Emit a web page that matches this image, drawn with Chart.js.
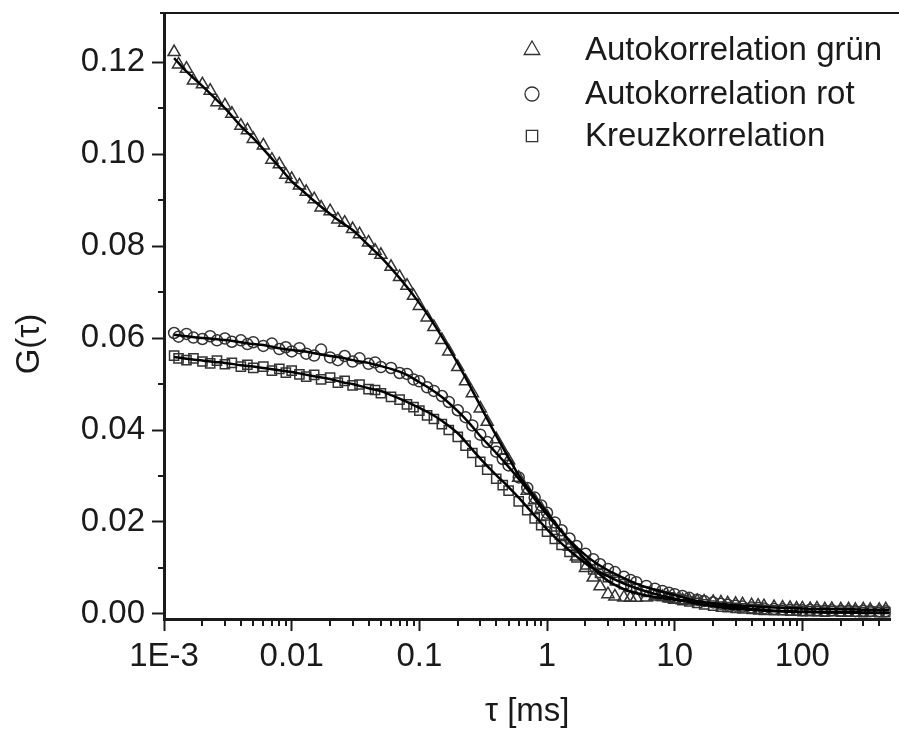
<!DOCTYPE html>
<html lang="de">
<head>
<meta charset="utf-8">
<title>G(τ)</title>
<script src="https://cdn.jsdelivr.net/npm/chart.js@4.4.1/dist/chart.umd.min.js"></script>
<style>
    html, body { margin: 0; padding: 0; background: #fff; }
    #chart-container { width: 899px; height: 743px; }
</style>
</head>
<body>
<div id="chart-container"></div>
<script>
// Lag times in ms of the correlator channels (measured points)
const tauData = [
    0.0012, 0.0013, 0.0015, 0.0017, 0.002, 0.0023, 0.0026, 0.003, 0.0034, 0.004, 0.0045, 0.005, 0.006, 0.007, 0.008, 0.009,
    0.01, 0.0115, 0.013, 0.015, 0.017, 0.02, 0.023, 0.026, 0.03, 0.034, 0.04, 0.045, 0.05, 0.06, 0.07, 0.08, 0.09,
    0.1, 0.115, 0.13, 0.15, 0.17, 0.2, 0.23, 0.26, 0.3, 0.34, 0.4, 0.45, 0.5, 0.6, 0.7, 0.8, 0.9,
    1, 1.15, 1.3, 1.5, 1.7, 2, 2.3, 2.6, 3, 3.4, 4, 4.5, 5, 6, 7, 8, 9,
    10, 11.5, 13, 15, 17, 20, 23, 26, 30, 34, 40, 45, 50, 60, 70, 80, 90,
    100, 115, 130, 150, 170, 200, 230, 260, 300, 340, 400, 450
];

// Lag times in ms at which the fit curves are given
const tauFit = [
    0.0012, 0.0015, 0.002, 0.0025, 0.003, 0.004, 0.005, 0.006, 0.008,
    0.01, 0.012, 0.015, 0.02, 0.025, 0.03, 0.04, 0.05, 0.06, 0.08,
    0.1, 0.12, 0.15, 0.2, 0.25, 0.3, 0.4, 0.5, 0.6, 0.8,
    1, 1.2, 1.5, 2, 2.5, 3, 4, 5, 6, 8,
    10, 12, 15, 20, 25, 30, 40, 50, 60, 80,
    100, 120, 150, 200, 250, 300, 400, 480
];

// Autokorrelation grün
const gruenData = [
    0.1222, 0.1195, 0.1186, 0.1160, 0.1152, 0.1138, 0.1113, 0.1106, 0.1088, 0.1062, 0.1052, 0.1033, 0.1019, 0.0988, 0.0978, 0.0955,
    0.0946, 0.0932, 0.0918, 0.0902, 0.0884, 0.0876, 0.0858, 0.0851, 0.0837, 0.0826, 0.0808, 0.0790, 0.0781, 0.0755, 0.0733, 0.0714, 0.0692,
    0.0670, 0.0645, 0.0624, 0.0596, 0.0571, 0.0537, 0.0506, 0.0480, 0.0447, 0.0418, 0.0380, 0.0355, 0.0334, 0.0296, 0.0268, 0.0247, 0.0229,
    0.0212, 0.0188, 0.0170, 0.0146, 0.0125, 0.0100, 0.0079, 0.0060, 0.0043, 0.0038, 0.0036, 0.0035, 0.0035, 0.0036, 0.0038, 0.0037, 0.0034,
    0.0031, 0.0030, 0.0029, 0.0028, 0.0027, 0.0026, 0.0025, 0.0023, 0.0022, 0.0021, 0.0019, 0.0018, 0.0017, 0.0015, 0.0014, 0.0013, 0.0012,
    0.0012, 0.0011, 0.0012, 0.0010, 0.0011, 0.0010, 0.0010, 0.0009, 0.0010, 0.0009, 0.0009, 0.0010
];
const gruenFit = [
    0.1209, 0.1180, 0.1148, 0.1122, 0.1100, 0.1061, 0.1035, 0.1011, 0.0972,
    0.0941, 0.0922, 0.0898, 0.0870, 0.0850, 0.0835, 0.0802, 0.0776, 0.0752, 0.0711,
    0.0676, 0.0645, 0.0603, 0.0545, 0.0495, 0.0453, 0.0388, 0.0340, 0.0302, 0.0255,
    0.0220, 0.0192, 0.0158, 0.0118, 0.0090, 0.0072, 0.0054, 0.0045, 0.0040, 0.0034,
    0.0031, 0.0029, 0.0026, 0.0023, 0.0021, 0.0019, 0.0017, 0.0015, 0.0014, 0.0013,
    0.0012, 0.0011, 0.0011, 0.0010, 0.0010, 0.0009, 0.0009, 0.0009
];

// Autokorrelation rot
const rotData = [
    0.0611, 0.0603, 0.0609, 0.0601, 0.0598, 0.0604, 0.0595, 0.0599, 0.0592, 0.0595, 0.0587, 0.0591, 0.0583, 0.0588, 0.0576, 0.0580,
    0.0571, 0.0578, 0.0566, 0.0562, 0.0575, 0.0558, 0.0552, 0.0561, 0.0549, 0.0556, 0.0544, 0.0547, 0.0537, 0.0535, 0.0524, 0.0522, 0.0510,
    0.0506, 0.0493, 0.0485, 0.0474, 0.0461, 0.0443, 0.0428, 0.0410, 0.0390, 0.0374, 0.0353, 0.0337, 0.0323, 0.0297, 0.0274, 0.0253, 0.0236,
    0.0220, 0.0199, 0.0182, 0.0164, 0.0148, 0.0131, 0.0119, 0.0108, 0.0098, 0.0091, 0.0081, 0.0074, 0.0069, 0.0061, 0.0055, 0.0050, 0.0046,
    0.0043, 0.0039, 0.0035, 0.0031, 0.0028, 0.0025, 0.0022, 0.0020, 0.0018, 0.0016, 0.0014, 0.0013, 0.0012, 0.0011, 0.0010, 0.0009, 0.0009,
    0.0008, 0.0009, 0.0008, 0.0007, 0.0008, 0.0007, 0.0007, 0.0006, 0.0007, 0.0006, 0.0006, 0.0006
];
const rotFit = [
    0.0607, 0.0604, 0.0600, 0.0598, 0.0596, 0.0591, 0.0587, 0.0585, 0.0578,
    0.0574, 0.0572, 0.0567, 0.0561, 0.0557, 0.0552, 0.0546, 0.0539, 0.0533, 0.0520,
    0.0504, 0.0491, 0.0472, 0.0441, 0.0413, 0.0387, 0.0350, 0.0320, 0.0294, 0.0250,
    0.0216, 0.0190, 0.0160, 0.0128, 0.0108, 0.0095, 0.0078, 0.0066, 0.0058, 0.0048,
    0.0041, 0.0035, 0.0028, 0.0022, 0.0017, 0.0015, 0.0011, 0.0009, 0.0007, 0.0006,
    0.0005, 0.0005, 0.0004, 0.0004, 0.0004, 0.0003, 0.0003, 0.0003
];

// Kreuzkorrelation
const kreuzData = [
    0.0562, 0.0556, 0.0552, 0.0556, 0.0549, 0.0545, 0.0551, 0.0543, 0.0546, 0.0538, 0.0542, 0.0535, 0.0538, 0.0529, 0.0533, 0.0525,
    0.0529, 0.0521, 0.0516, 0.0520, 0.0510, 0.0514, 0.0503, 0.0507, 0.0497, 0.0499, 0.0489, 0.0487, 0.0480, 0.0472, 0.0466, 0.0456, 0.0450,
    0.0442, 0.0432, 0.0424, 0.0413, 0.0400, 0.0385, 0.0366, 0.0350, 0.0331, 0.0314, 0.0294, 0.0280, 0.0268, 0.0245, 0.0226, 0.0208, 0.0193,
    0.0179, 0.0163, 0.0150, 0.0135, 0.0123, 0.0108, 0.0097, 0.0089, 0.0080, 0.0073, 0.0065, 0.0059, 0.0055, 0.0048, 0.0043, 0.0039, 0.0036,
    0.0033, 0.0030, 0.0027, 0.0024, 0.0021, 0.0018, 0.0016, 0.0015, 0.0013, 0.0012, 0.0011, 0.0010, 0.0009, 0.0008, 0.0008, 0.0007, 0.0007,
    0.0006, 0.0006, 0.0006, 0.0005, 0.0006, 0.0005, 0.0005, 0.0005, 0.0004, 0.0005, 0.0004, 0.0004
];
const kreuzFit = [
    0.0559, 0.0555, 0.0551, 0.0548, 0.0546, 0.0541, 0.0538, 0.0535, 0.0530,
    0.0526, 0.0522, 0.0517, 0.0511, 0.0504, 0.0500, 0.0491, 0.0485, 0.0476, 0.0461,
    0.0448, 0.0437, 0.0420, 0.0393, 0.0363, 0.0338, 0.0302, 0.0276, 0.0253, 0.0214,
    0.0184, 0.0162, 0.0138, 0.0110, 0.0093, 0.0082, 0.0066, 0.0056, 0.0049, 0.0039,
    0.0033, 0.0028, 0.0022, 0.0017, 0.0013, 0.0011, 0.0009, 0.0007, 0.0006, 0.0005,
    0.0004, 0.0004, 0.0003, 0.0003, 0.0003, 0.0002, 0.0002, 0.0002
];

const seriesLabels = ['Autokorrelation grün', 'Autokorrelation rot', 'Kreuzkorrelation'];
const xTickValues = [0.001, 0.01, 0.1, 1, 10, 100];
const xTickLabels = ['1E-3', '0.01', '0.1', '1', '10', '100'];
const yTickValues = [0, 0.02, 0.04, 0.06, 0.08, 0.10, 0.12];
const yMinorValues = [0.01, 0.03, 0.05, 0.07, 0.09, 0.11];

const FONT = "'Liberation Sans', Arial, sans-serif";
const INK = '#1a1a1a';
const MARKER = '#333333';

function toPoints(xs, ys) {
    return xs.map((t, i) => ({ x: t, y: ys[i] }));
}

/**
 * Top frame line, short minor ticks on both axes and the y axis title
 */
const axisDecor = {
    id: 'axisDecor',
    afterDraw(chart) {
        const { ctx, chartArea: area, scales: { x, y } } = chart;
        ctx.save();
        ctx.strokeStyle = INK;
        ctx.lineWidth = 2;
        ctx.beginPath();
        ctx.moveTo(area.left - 4, area.top);
        ctx.lineTo(chart.width, area.top);
        ctx.stroke();

        ctx.beginPath();
        for (let d = -3; d <= 2; d++) {
            for (let m = 2; m <= 9; m++) {
                const v = m * Math.pow(10, d);
                if (v > x.max) break;
                const px = Math.round(x.getPixelForValue(v));
                ctx.moveTo(px, area.bottom);
                ctx.lineTo(px, area.bottom + 7);
            }
        }
        yMinorValues.forEach(v => {
            const py = Math.round(y.getPixelForValue(v));
            ctx.moveTo(area.left, py);
            ctx.lineTo(area.left - 6, py);
        });
        ctx.stroke();

        // y axis title sits a little below the middle of the axis
        ctx.fillStyle = INK;
        ctx.font = `33px ${FONT}`;
        ctx.textAlign = 'center';
        ctx.textBaseline = 'middle';
        ctx.translate(30, 344);
        ctx.rotate(-Math.PI / 2);
        ctx.fillText('G(τ)', 0, 0);
        ctx.restore();
    }
};

/**
 * Legend drawn inside the plot area, top right
 */
const insideLegend = {
    id: 'insideLegend',
    afterDraw(chart) {
        const { ctx } = chart;
        const rows = [50, 94, 136];
        const styles = [
            { pointStyle: 'triangle', radius: 9 },
            { pointStyle: 'circle', radius: 7 },
            { pointStyle: 'rect', radius: 8 }
        ];
        ctx.save();
        ctx.font = `33px ${FONT}`;
        ctx.textAlign = 'left';
        ctx.textBaseline = 'middle';
        rows.forEach((ry, i) => {
            ctx.strokeStyle = MARKER;
            ctx.fillStyle = 'rgba(0,0,0,0)';
            ctx.lineWidth = 1.3;
            Chart.helpers.drawPoint(ctx, {
                pointStyle: styles[i].pointStyle,
                radius: styles[i].radius,
                rotation: 0,
                borderWidth: 1.3
            }, 532, ry);
            ctx.fillStyle = INK;
            ctx.fillText(seriesLabels[i], 585, ry + 1);
        });
        ctx.restore();
    }
};

class CorrelationChart {
    constructor(containerId) {
        this.containerId = containerId;
        this.chart = null;
    }

    markerSet(label, values, style, radius) {
        return {
            label: label,
            data: toPoints(tauData, values),
            showLine: false,
            pointStyle: style,
            pointRadius: radius,
            pointBorderWidth: 1.5,
            pointBorderColor: MARKER,
            pointBackgroundColor: 'rgba(0,0,0,0)',
            order: 2
        };
    }

    fitSet(label, values) {
        return {
            label: label,
            data: toPoints(tauFit, values),
            showLine: true,
            borderColor: '#000',
            borderWidth: 2.5,
            pointRadius: 0,
            cubicInterpolationMode: 'monotone',
            fill: false,
            order: 1
        };
    }

    createChart() {
        const canvas = document.createElement('canvas');
        canvas.width = 899;
        canvas.height = 743;
        const container = document.getElementById(this.containerId);
        container.innerHTML = '';
        container.appendChild(canvas);

        this.chart = new Chart(canvas, {
            type: 'scatter',
            data: {
                datasets: [
                    this.markerSet(seriesLabels[0], gruenData, 'triangle', 7),
                    this.markerSet(seriesLabels[1], rotData, 'circle', 5.5),
                    this.markerSet(seriesLabels[2], kreuzData, 'rect', 6.5),
                    this.fitSet('Fit grün', gruenFit),
                    this.fitSet('Fit rot', rotFit),
                    this.fitSet('Fit kreuz', kreuzFit)
                ]
            },
            options: {
                responsive: false,
                animation: false,
                devicePixelRatio: 1,
                layout: {
                    padding: { top: 13, right: 1, left: 0, bottom: 0 }
                },
                plugins: {
                    legend: { display: false },
                    tooltip: { enabled: false }
                },
                scales: {
                    x: {
                        type: 'logarithmic',
                        min: 0.001,
                        max: 490,
                        afterBuildTicks: scale => {
                            scale.ticks = xTickValues.map(v => ({ value: v }));
                        },
                        afterFit: scale => {
                            scale.height = 124;
                            scale.paddingLeft = 0;
                            scale.paddingRight = 0;
                        },
                        ticks: {
                            autoSkip: false,
                            maxRotation: 0,
                            padding: 6,
                            color: INK,
                            font: { family: FONT, size: 33 },
                            callback: (value, index) => xTickLabels[index]
                        },
                        grid: {
                            drawOnChartArea: false,
                            drawTicks: true,
                            tickLength: 12,
                            tickWidth: 2,
                            tickColor: INK
                        },
                        border: { color: INK, width: 3 },
                        title: {
                            display: true,
                            text: 'τ [ms]',
                            color: INK,
                            font: { family: FONT, size: 33 },
                            padding: { top: 0, bottom: 11 }
                        }
                    },
                    y: {
                        min: -0.0011,
                        max: 0.1307,
                        afterBuildTicks: scale => {
                            scale.ticks = yTickValues.map(v => ({ value: v }));
                        },
                        afterFit: scale => {
                            scale.width = 164;
                            scale.paddingTop = 0;
                            scale.paddingBottom = 0;
                        },
                        ticks: {
                            padding: 7,
                            color: INK,
                            font: { family: FONT, size: 33 },
                            callback: value => value.toFixed(2)
                        },
                        grid: {
                            drawOnChartArea: false,
                            drawTicks: true,
                            tickLength: 12,
                            tickWidth: 2,
                            tickColor: INK
                        },
                        border: { color: INK, width: 3 }
                    }
                }
            },
            plugins: [axisDecor, insideLegend]
        });
    }
}

new CorrelationChart('chart-container').createChart();
</script>
</body>
</html>
